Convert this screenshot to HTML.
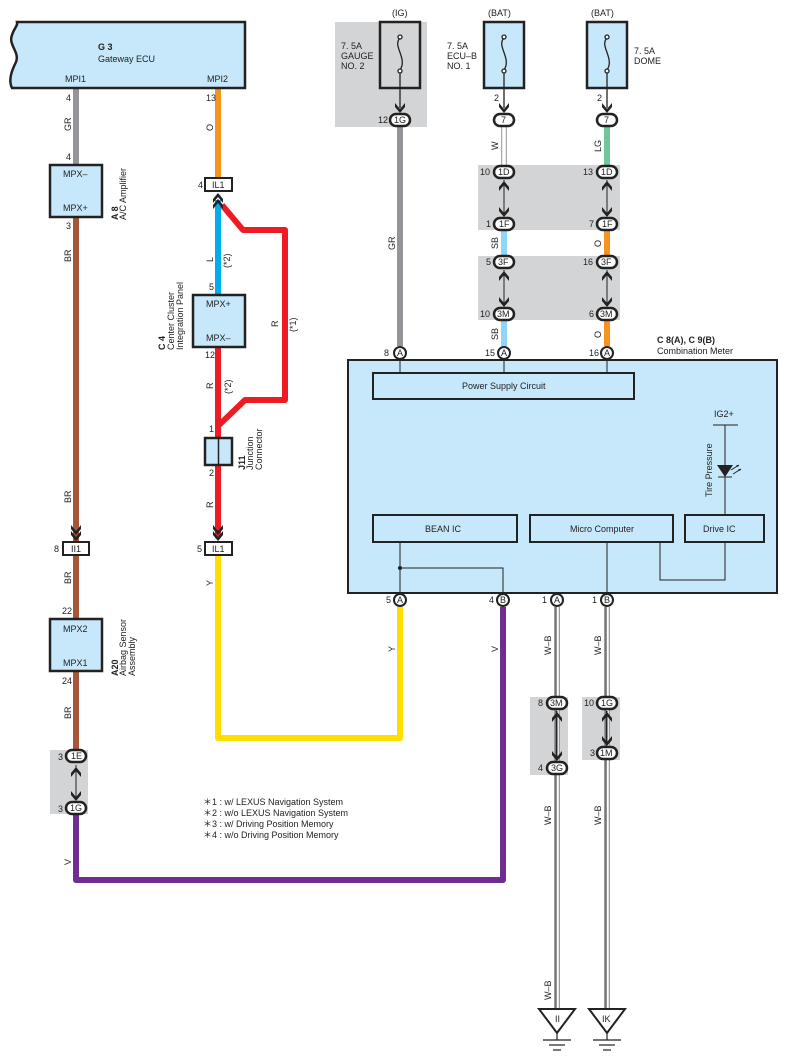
<!DOCTYPE html>
<html><head><meta charset="utf-8"><style>
html,body{margin:0;padding:0;background:#fff}
svg{display:block}
text{font-family:"Liberation Sans",sans-serif;font-size:9px;fill:#222}
.b{font-weight:bold}
</style></head><body>
<svg width="788" height="1062" viewBox="0 0 788 1062" xmlns="http://www.w3.org/2000/svg">
<defs>
<g id="dn"><path d="M-5,-9 L0,-3 L5,-9 L5,-5 L0,1 L-5,-5Z" fill="#222"/></g>
</defs>
<!-- gray splice areas -->
<rect x="335" y="22" width="92" height="105" fill="#d3d4d6"/>
<rect x="478" y="165" width="142" height="65" fill="#d3d4d6"/>
<rect x="478" y="256" width="142" height="64" fill="#d3d4d6"/>
<rect x="50" y="750" width="38" height="64" fill="#d3d4d6"/>
<rect x="530" y="697" width="38" height="78" fill="#d3d4d6"/>
<rect x="582" y="697" width="38" height="63" fill="#d3d4d6"/>

<!-- wires -->
<g fill="none" stroke-linejoin="round" stroke-linecap="butt">
<line x1="76" y1="88" x2="76" y2="165" stroke="#939598" stroke-width="6"/>
<line x1="76" y1="217" x2="76" y2="542" stroke="#a6573a" stroke-width="6"/>
<line x1="76" y1="555" x2="76" y2="619" stroke="#a6573a" stroke-width="6"/>
<line x1="76" y1="671" x2="76" y2="750" stroke="#a6573a" stroke-width="6"/>
<polyline points="76,814 76,880 503,880 503,607" stroke="#6f2c91" stroke-width="6"/>
<line x1="218" y1="88" x2="218" y2="178" stroke="#f7941d" stroke-width="6"/>
<line x1="218" y1="200" x2="218" y2="295" stroke="#00aeef" stroke-width="6"/>
<polyline points="222,205 243,230 285,230 285,400 245,400 218,426" stroke="#ed1c24" stroke-width="6"/>
<line x1="218" y1="347" x2="218" y2="438" stroke="#ed1c24" stroke-width="6"/>
<line x1="218" y1="465" x2="218" y2="538" stroke="#ed1c24" stroke-width="6"/>
<polyline points="218,555 218,738 400,738 400,607" stroke="#ffde00" stroke-width="6"/>
<line x1="400" y1="127" x2="400" y2="346" stroke="#939598" stroke-width="6"/>
<line x1="504" y1="127" x2="504" y2="165" stroke="#aaa" stroke-width="6"/>
<line x1="504" y1="127" x2="504" y2="165" stroke="#fff" stroke-width="3.5"/>
<line x1="504" y1="230" x2="504" y2="256" stroke="#8dd6f7" stroke-width="6"/>
<line x1="504" y1="320" x2="504" y2="346" stroke="#8dd6f7" stroke-width="6"/>
<line x1="607" y1="127" x2="607" y2="165" stroke="#72c69b" stroke-width="6"/>
<line x1="607" y1="230" x2="607" y2="256" stroke="#f7941d" stroke-width="6"/>
<line x1="607" y1="320" x2="607" y2="346" stroke="#f7941d" stroke-width="6"/>
<!-- W-B -->
<g stroke="#999" stroke-width="6"><line x1="557" y1="607" x2="557" y2="1009"/><line x1="607" y1="607" x2="607" y2="1009"/></g>
<g stroke="#fff" stroke-width="3.5"><line x1="557" y1="607" x2="557" y2="1009"/><line x1="607" y1="607" x2="607" y2="1009"/></g>
<g stroke="#222" stroke-width="1"><line x1="556" y1="607" x2="556" y2="1009"/><line x1="606" y1="607" x2="606" y2="1009"/></g>
</g>

<!-- Gateway ECU -->
<path d="M17,22 L245,22 L245,88 L12,88 C8,80 12,70 16,62 C20,52 8,45 12,35 C14,28 18,26 17,22Z" fill="#c7e8fa" stroke="#222" stroke-width="2.5"/>
<text x="98" y="50" class="b">G 3</text><text x="98" y="62">Gateway ECU</text>
<text x="65" y="82">MPI1</text><text x="207" y="82">MPI2</text>
<text x="66" y="101">4</text><text x="66" y="160">4</text>
<text x="206" y="101">13</text><text x="66" y="229">3</text>
<text transform="translate(71,131) rotate(-90)">GR</text>
<text transform="translate(213,131) rotate(-90)">O</text>
<text transform="translate(71,262) rotate(-90)">BR</text>
<text transform="translate(71,503) rotate(-90)">BR</text>
<text transform="translate(71,584) rotate(-90)">BR</text>
<text transform="translate(71,719) rotate(-90)">BR</text>
<text transform="translate(71,716) rotate(-90)"></text>
<text transform="translate(71,865) rotate(-90)">V</text>

<!-- A/C amplifier -->
<rect x="50" y="165" width="52" height="52" fill="#c7e8fa" stroke="#222" stroke-width="2.5"/>
<text x="63" y="177">MPX–</text><text x="63" y="211">MPX+</text>
<text transform="translate(118,220) rotate(-90)" class="b">A 8</text>
<text transform="translate(126,220) rotate(-90)">A/C Amplifier</text>

<!-- II1 -->
<use href="#dn" x="76" y="534"/><use href="#dn" x="76" y="540"/>
<rect x="63" y="542" width="26" height="13" fill="#fff" stroke="#222" stroke-width="2"/>
<text x="71" y="552">II1</text><text x="54" y="552">8</text>

<!-- A20 -->
<rect x="50" y="619" width="52" height="52" fill="#c7e8fa" stroke="#222" stroke-width="2.5"/>
<text x="63" y="632">MPX2</text><text x="63" y="666">MPX1</text>
<text x="62" y="614">22</text><text x="62" y="684">24</text>
<text transform="translate(118,676) rotate(-90)" class="b">A20</text>
<text transform="translate(126,676) rotate(-90)">Airbag Sensor</text>
<text transform="translate(135,676) rotate(-90)">Assembly</text>

<!-- 1E / 1G -->
<line x1="76" y1="765" x2="76" y2="800" stroke="#222" stroke-width="1"/>
<g transform="translate(76,768) rotate(180)"><use href="#dn" x="0" y="0"/></g>
<use href="#dn" x="76" y="800"/>
<rect x="66" y="750" width="20" height="12" rx="6" fill="#fff" stroke="#222" stroke-width="2.5"/>
<text x="71" y="759">1E</text><text x="58" y="760">3</text>
<rect x="66" y="802" width="20" height="12" rx="6" fill="#fff" stroke="#222" stroke-width="2.5"/>
<text x="70" y="811">1G</text><text x="58" y="812">3</text>

<!-- IL1 top -->
<text x="198" y="188">4</text>
<rect x="205" y="178" width="27" height="13" fill="#fff" stroke="#222" stroke-width="2"/>
<text x="212" y="188">IL1</text>
<g transform="translate(218,194) rotate(180)"><use href="#dn"/></g>
<g transform="translate(218,200) rotate(180)"><use href="#dn"/></g>
<text transform="translate(213,262) rotate(-90)">L</text>
<text transform="translate(230,268) rotate(-90)">(*2)</text>
<text transform="translate(278,327) rotate(-90)">R</text>
<text transform="translate(296,332) rotate(-90)">(*1)</text>
<text x="209" y="290">5</text>

<!-- C4 -->
<rect x="193" y="295" width="52" height="52" fill="#c7e8fa" stroke="#222" stroke-width="2.5"/>
<text x="206" y="307">MPX+</text><text x="206" y="341">MPX–</text>
<text transform="translate(165,350) rotate(-90)" class="b">C 4</text>
<text transform="translate(174,350) rotate(-90)">Center Cluster</text>
<text transform="translate(183,350) rotate(-90)">Integration Panel</text>
<text x="205" y="358">12</text>
<text transform="translate(213,389) rotate(-90)">R</text>
<text transform="translate(231,394) rotate(-90)">(*2)</text>
<text x="209" y="432">1</text>

<!-- J11 -->
<rect x="205" y="438" width="27" height="27" fill="#c7e8fa" stroke="#222" stroke-width="2.5"/>
<line x1="218.5" y1="438" x2="218.5" y2="465" stroke="#222" stroke-width="1.5"/>
<text transform="translate(245,470) rotate(-90)" class="b">J11</text>
<text transform="translate(253,470) rotate(-90)">Junction</text>
<text transform="translate(262,470) rotate(-90)">Connector</text>
<text x="209" y="476">2</text>
<text transform="translate(213,508) rotate(-90)">R</text>
<use href="#dn" x="218" y="534"/><use href="#dn" x="218" y="540"/>
<rect x="205" y="542" width="27" height="13" fill="#fff" stroke="#222" stroke-width="2"/>
<text x="212" y="552">IL1</text><text x="197" y="552">5</text>
<text transform="translate(213,586) rotate(-90)">Y</text>

<!-- fuses -->
<text x="392" y="16">(IG)</text><text x="488" y="16">(BAT)</text><text x="591" y="16">(BAT)</text>
<g fill="#c7e8fa" stroke="#222" stroke-width="2.5">
<rect x="380" y="22" width="40" height="66" fill="#d3d4d6"/>
<rect x="484" y="22" width="40" height="66"/>
<rect x="587" y="22" width="40" height="66"/>
</g>
<g fill="none" stroke="#222" stroke-width="1.3">
<path d="M400,38 C392,46 408,58 400,70"/><circle cx="400" cy="37" r="2" fill="#fff"/><circle cx="400" cy="71" r="2" fill="#fff"/>
<path d="M504,38 C496,46 512,58 504,70"/><circle cx="504" cy="37" r="2" fill="#fff"/><circle cx="504" cy="71" r="2" fill="#fff"/>
<path d="M607,38 C599,46 615,58 607,70"/><circle cx="607" cy="37" r="2" fill="#fff"/><circle cx="607" cy="71" r="2" fill="#fff"/>
<line x1="400" y1="73" x2="400" y2="108"/><line x1="504" y1="73" x2="504" y2="108"/><line x1="607" y1="73" x2="607" y2="108"/>
</g>
<text x="341" y="49">7. 5A</text><text x="341" y="59">GAUGE</text><text x="341" y="69">NO. 2</text>
<text x="447" y="49">7. 5A</text><text x="447" y="59">ECU–B</text><text x="447" y="69">NO. 1</text>
<text x="634" y="54">7. 5A</text><text x="634" y="64">DOME</text>
<use href="#dn" x="400" y="112"/><use href="#dn" x="504" y="112"/><use href="#dn" x="607" y="112"/>
<text x="494" y="101">2</text><text x="597" y="101">2</text>

<g fill="#fff" stroke="#222" stroke-width="2.5">
<rect x="390" y="114" width="20" height="12" rx="6"/>
<rect x="494" y="114" width="20" height="12" rx="6"/>
<rect x="597" y="114" width="20" height="12" rx="6"/>
<rect x="494" y="166" width="20" height="12" rx="6"/>
<rect x="597" y="166" width="20" height="12" rx="6"/>
<rect x="494" y="218" width="20" height="12" rx="6"/>
<rect x="597" y="218" width="20" height="12" rx="6"/>
<rect x="494" y="256" width="20" height="12" rx="6"/>
<rect x="597" y="256" width="20" height="12" rx="6"/>
<rect x="494" y="308" width="20" height="12" rx="6"/>
<rect x="597" y="308" width="20" height="12" rx="6"/>
<rect x="547" y="697" width="20" height="12" rx="6"/>
<rect x="547" y="762" width="20" height="12" rx="6"/>
<rect x="597" y="697" width="20" height="12" rx="6"/>
<rect x="597" y="747" width="20" height="12" rx="6"/>
</g>
<text x="394" y="123">1G</text><text x="378" y="123">12</text>
<text x="501" y="123">7</text><text x="604" y="123">7</text>
<text x="498" y="175">1D</text><text x="601" y="175">1D</text><text x="480" y="175">10</text><text x="583" y="175">13</text>
<text x="499" y="227">1F</text><text x="602" y="227">1F</text><text x="486" y="227">1</text><text x="589" y="227">7</text>
<text x="498" y="265">3F</text><text x="601" y="265">3F</text><text x="486" y="265">5</text><text x="583" y="265">16</text>
<text x="497" y="317">3M</text><text x="600" y="317">3M</text><text x="480" y="317">10</text><text x="589" y="317">6</text>
<text x="550" y="706">3M</text><text x="538" y="706">8</text>
<text x="551" y="771">3G</text><text x="538" y="771">4</text>
<text x="601" y="706">1G</text><text x="584" y="706">10</text>
<text x="600" y="756">1M</text><text x="590" y="756">3</text>
<!-- splice arrows -->
<g stroke="#222" stroke-width="1">
<line x1="504" y1="180" x2="504" y2="216"/><line x1="607" y1="180" x2="607" y2="216"/>
<line x1="504" y1="270" x2="504" y2="306"/><line x1="607" y1="270" x2="607" y2="306"/>
<line x1="557" y1="711" x2="557" y2="760"/><line x1="607" y1="711" x2="607" y2="745"/>
</g>
<g transform="translate(504,182) rotate(180)"><use href="#dn"/></g><use href="#dn" x="504" y="216"/>
<g transform="translate(607,182) rotate(180)"><use href="#dn"/></g><use href="#dn" x="607" y="216"/>
<g transform="translate(504,272) rotate(180)"><use href="#dn"/></g><use href="#dn" x="504" y="306"/>
<g transform="translate(607,272) rotate(180)"><use href="#dn"/></g><use href="#dn" x="607" y="306"/>
<g transform="translate(557,713) rotate(180)"><use href="#dn"/></g><use href="#dn" x="557" y="760"/>
<g transform="translate(607,713) rotate(180)"><use href="#dn"/></g><use href="#dn" x="607" y="745"/>
<text transform="translate(498,150) rotate(-90)">W</text>
<text transform="translate(601,152) rotate(-90)">LG</text>
<text transform="translate(498,249) rotate(-90)">SB</text>
<text transform="translate(601,247) rotate(-90)">O</text>
<text transform="translate(498,340) rotate(-90)">SB</text>
<text transform="translate(601,338) rotate(-90)">O</text>
<text transform="translate(395,250) rotate(-90)">GR</text>

<!-- Combination meter -->
<text x="657" y="343" class="b">C 8(A), C 9(B)</text><text x="657" y="354">Combination Meter</text>
<rect x="348" y="360" width="429" height="233" fill="#c7e8fa" stroke="#222" stroke-width="2"/>
<g fill="none" stroke="#222" stroke-width="1">
<line x1="400" y1="360" x2="400" y2="373"/><line x1="504" y1="360" x2="504" y2="373"/><line x1="607" y1="360" x2="607" y2="373"/>
<polyline points="400,542 400,607"/><polyline points="400,568 503,568 503,593"/>
<line x1="607" y1="542" x2="607" y2="593"/>
<polyline points="660,542 660,580 725,580 725,542"/>
<line x1="713" y1="425" x2="738" y2="425"/><line x1="725" y1="425" x2="725" y2="515"/>
<line x1="718" y1="477" x2="732" y2="477"/>
<path d="M731,470 L739,465 M733,474 L741,469"/>
</g>
<path d="M717,465 L733,465 L725,477Z" fill="#222"/>
<path d="M739,465 l-3,0 l2,2z M741,469 l-3,0 l2,2z" fill="#222"/>
<text x="714" y="417">IG2+</text>
<text transform="translate(712,497) rotate(-90)">Tire Pressure</text>
<g fill="none" stroke="#222" stroke-width="2">
<rect x="373" y="373" width="261" height="26"/>
<rect x="373" y="515" width="144" height="27"/>
<rect x="530" y="515" width="143" height="27"/>
<rect x="685" y="515" width="79" height="27"/>
</g>
<circle cx="400" cy="568" r="2" fill="#222"/>
<text x="462" y="389">Power Supply Circuit</text>
<text x="425" y="532">BEAN IC</text>
<text x="570" y="532">Micro Computer</text>
<text x="703" y="532">Drive IC</text>

<!-- terminals -->
<g fill="#fff" stroke="#222" stroke-width="2">
<circle cx="400" cy="353" r="6"/><circle cx="504" cy="353" r="6"/><circle cx="607" cy="353" r="6"/>
<circle cx="400" cy="600" r="6"/><circle cx="503" cy="600" r="6"/><circle cx="557" cy="600" r="6"/><circle cx="607" cy="600" r="6"/>
</g>
<g style="font-size:8px">
<text x="397" y="356">A</text><text x="501" y="356">A</text><text x="604" y="356">A</text>
<text x="397" y="603">A</text><text x="500" y="603">B</text><text x="554" y="603">A</text><text x="604" y="603">B</text>
</g>
<text x="384" y="356">8</text><text x="485" y="356">15</text><text x="589" y="356">16</text>
<text x="386" y="603">5</text><text x="489" y="603">4</text><text x="542" y="603">1</text><text x="592" y="603">1</text>
<text transform="translate(395,652) rotate(-90)">Y</text>
<text transform="translate(498,652) rotate(-90)">V</text>
<text transform="translate(551,655) rotate(-90)">W–B</text>
<text transform="translate(601,655) rotate(-90)">W–B</text>
<text transform="translate(551,825) rotate(-90)">W–B</text>
<text transform="translate(601,825) rotate(-90)">W–B</text>
<text transform="translate(551,1000) rotate(-90)">W–B</text>

<!-- grounds -->
<g fill="#fff" stroke="#222" stroke-width="2">
<path d="M539,1009 L575,1009 L557,1033Z"/><path d="M589,1009 L625,1009 L607,1033Z"/>
</g>
<g stroke="#222" stroke-width="1.2">
<line x1="557" y1="1033" x2="557" y2="1040"/><line x1="607" y1="1033" x2="607" y2="1040"/>
<line x1="543" y1="1040" x2="571" y2="1040"/><line x1="549" y1="1045" x2="565" y2="1045"/><line x1="553" y1="1050" x2="561" y2="1050"/>
<line x1="593" y1="1040" x2="621" y2="1040"/><line x1="599" y1="1045" x2="615" y2="1045"/><line x1="603" y1="1050" x2="611" y2="1050"/>
</g>
<text x="555" y="1022">II</text><text x="602" y="1022">IK</text>

<!-- notes -->
<text x="203" y="805">＊1 : w/ LEXUS Navigation System</text>
<text x="203" y="816">＊2 : w/o LEXUS Navigation System</text>
<text x="203" y="827">＊3 : w/ Driving Position Memory</text>
<text x="203" y="838">＊4 : w/o Driving Position Memory</text>
</svg>
</body></html>
